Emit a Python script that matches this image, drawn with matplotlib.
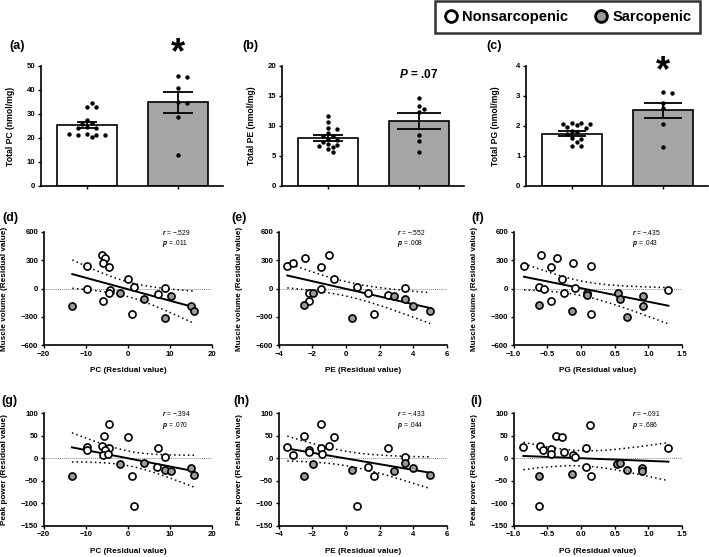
import numpy as np
import matplotlib
matplotlib.use("Agg")
import matplotlib.pyplot as plt
from matplotlib.lines import Line2D

plt.rcParams["font.family"] = ["Liberation Sans", "DejaVu Sans"]
plt.rcParams["font.weight"] = "bold"
plt.rcParams["axes.labelweight"] = "bold"
plt.rcParams["mathtext.fontset"] = "custom"
plt.rcParams["mathtext.rm"] = "Liberation Sans"
plt.rcParams["mathtext.it"] = "Liberation Sans:italic"
plt.rcParams["mathtext.bf"] = "Liberation Sans:bold"
plt.rcParams["mathtext.bfit"] = "Liberation Sans:italic:bold"

# ---------------- data: bar panels (a)-(c) ----------------
pc_non = [33.0, 33.0, 34.7, 27.5, 26.3, 25.8, 24.5, 24.3, 24.0, 21.5, 21.3, 21.2, 21.3, 21.5, 20.3]
pc_sar = [46.0, 45.6, 41.0, 34.8, 34.6, 28.7, 12.9]
pe_non = [11.6, 10.7, 9.7, 9.5, 8.8, 8.4, 8.3, 7.9, 7.6, 7.4, 7.0, 6.8, 6.7, 6.5, 6.1, 5.7]
pe_sar = [14.6, 13.3, 12.9, 12.4, 8.5, 7.5, 5.7]
pg_non = [2.10, 2.09, 2.08, 2.07, 2.02, 1.97, 1.95, 1.85, 1.80, 1.75, 1.60, 1.57, 1.46, 1.35, 1.33]
pg_sar = [3.12, 3.11, 2.77, 2.60, 2.06, 1.29]

bar_means = [[25.5, 34.8], [8.0, 10.8], [1.75, 2.53]]
bar_sem = [[1.3, 4.4], [0.5, 1.3], [0.09, 0.25]]
bar_ylabels = ["Total PC (nmol/mg)", "Total PE (nmol/mg)", "Total PG (nmol/mg)"]
bar_yticks = [[0, 10, 20, 30, 40, 50], [0, 5, 10, 15, 20], [0, 1, 2, 3, 4]]

# ---------------- data: muscle volume panels (d)-(f) ----------------
d_non_x = [-6.2, -5.5, -5.9, -9.8, -4.6, -0.04, 1.5, 8.7, -9.6, -4.2, -4.6, -5.8, 7.2, 0.9]
d_non_y = [356, 321, 268, 240, 233, 99, 14, 4, -4, -14, -42, -134, -56, -268]
d_sar_x = [-13.2, -1.9, 3.9, 10.3, 15.0, 15.7, 8.7]
d_sar_y = [-180, -46, -113, -81, -184, -240, -311]

e_non_x = [-3.49, -3.13, -2.46, -1.04, -1.46, -0.73, 0.62, 1.33, 3.48, -1.51, 1.64, -2.2, -2.18, 2.51]
e_non_y = [240, 268, 328, 356, 233, 99, 14, -49, 4, -7, -268, -42, -131, -67]
e_sar_x = [-2.5, -1.95, 0.34, 2.86, 3.51, 3.95, 5.0]
e_sar_y = [-177, -42, -307, -78, -113, -180, -237]

f_non_x = [-0.847, -0.594, -0.361, -0.45, -0.114, 0.144, -0.277, -0.62, -0.55, -0.248, -0.084, 0.084, -0.446, 0.153, 1.297]
f_non_y = [240, 356, 328, 233, 268, 240, 99, 14, -4, -42, 4, -42, -131, -265, -11]
f_sar_x = [-0.62, -0.129, 0.084, 0.55, 0.58, 0.916, 0.926, 0.683]
f_sar_y = [-177, -233, -64, -42, -113, -78, -180, -304]

# ---------------- data: peak power panels (g)-(i) ----------------
g_non_x = [-4.6, -5.7, -0.04, -9.8, -9.6, -6.2, -4.4, -5.5, -5.9, -4.7, 7.2, 8.7, 6.9, 0.9, 1.5]
g_non_y = [75.5, 49.6, 48, 25.8, 17.7, 27.3, 23.6, 18.4, 6.5, 8.8, 23.6, 2.1, -19.4, -39.5, -105.5]
g_sar_x = [-13.3, -1.9, 3.9, 8.7, 10.3, 14.9, 15.7]
g_sar_y = [-38.7, -13.5, -11.3, -25.4, -27.6, -22.4, -37.2]

h_non_x = [-1.5, -2.5, -0.73, -3.49, -3.13, -2.19, -1.51, -1.44, -1.04, 2.51, 3.48, 1.31, 1.64, 0.62, -2.22]
h_non_y = [75.5, 49.6, 48, 25.8, 6.5, 18.4, 23.6, 8.8, 28, 23.6, 2.1, -20, -39.5, -105.5, 13]
h_sar_x = [-2.5, -1.95, 0.34, 2.86, 3.51, 3.95, 5.0]
h_sar_y = [-38.7, -13.5, -25.4, -27.6, -11.3, -22.4, -36.5]

i_non_x = [0.134, -0.371, -0.282, -0.856, -0.609, -0.56, -0.45, -0.45, -0.252, -0.124, -0.084, 0.079, 0.074, 0.144, 1.297, -0.629]
i_non_y = [74.8, 49.6, 48, 25.8, 27.3, 17.7, 20, 8.8, 13.2, 6.5, 2.1, 23.6, -19.4, -39.5, 23.6, -105.5]
i_sar_x = [-0.624, -0.134, 0.535, 0.574, 0.678, 0.911, 0.906]
i_sar_y = [-38.7, -35.8, -13.5, -11.3, -25.4, -22.4, -27.6]

r_text = ["\u2212.529", "\u2212.552", "\u2212.435", "\u2212.394", "\u2212.433", "\u2212.091"]
p_text = [".011", ".008", ".043", ".070", ".044", ".686"]
x_labels = ["PC (Residual value)", "PE (Residual value)", "PG (Residual value)"]
x_ticks = [[-20, -10, 0, 10, 20], [-4, -2, 0, 2, 4, 6], [-1.0, -0.5, 0.0, 0.5, 1.0, 1.5]]

W, H = 709, 557
fig = plt.figure(figsize=(W / 100, H / 100), dpi=100)

GRAY_BAR = "#a6a6a6"
GRAY_DOT = "#9a9a9a"


def px_axes(x0, x1, ytop, ybot):
    return fig.add_axes([x0 / W, 1 - ybot / H, (x1 - x0) / W, (ybot - ytop) / H])


def style(ax):
    for s in ["top", "right"]:
        ax.spines[s].set_visible(False)
    for s in ["left", "bottom"]:
        ax.spines[s].set_linewidth(1.2)
    ax.tick_params(direction="out", length=2.5, width=1.0, labelsize=5.6, pad=1.5)


def swarm(ax, xc, vals, d):
    # simple beeswarm in pixel space
    placed = []
    xs = []
    for v in vals:
        px, py = ax.transData.transform((xc, v))
        k = 0
        while True:
            off = ((k + 1) // 2) * d * 0.95 * (1 if k % 2 else -1) if k else 0
            ok = all((px + off - qx) ** 2 + (py - qy) ** 2 >= d * d for qx, qy in placed)
            if ok:
                break
            k += 1
        placed.append((px + off, py))
        xs.append(ax.transData.inverted().transform((px + off, py))[0])
    return xs


# ---------------- top row: bars ----------------
bar_lefts = [41, 282, 526]
bar_groups = [(pc_non, pc_sar), (pe_non, pe_sar), (pg_non, pg_sar)]
caps = [(7.5, 11), (10.5, 16), (10, 13.5)]
bar_axes = []
for k in range(3):
    ax = px_axes(bar_lefts[k], bar_lefts[k] + 182, 66, 186)
    style(ax)
    ax.set_xlim(-0.505, 1.495)
    ax.set_ylim(0, bar_yticks[k][-1])
    ax.set_yticks(bar_yticks[k])
    ax.set_xticks([0, 1])
    ax.set_xticklabels(["", ""])
    ax.bar([0, 1], bar_means[k], width=0.66, color=["white", GRAY_BAR],
           edgecolor="black", linewidth=1.2, zorder=2)
    for j in range(2):
        ax.errorbar(j, bar_means[k][j], yerr=bar_sem[k][j], color="black",
                    capsize=caps[k][j], elinewidth=1.3, capthick=1.3, zorder=3)
        vals = bar_groups[k][j]
        xs = swarm(ax, j, vals, 4.8)
        ax.scatter(xs, vals, s=10, color="black", zorder=4, linewidths=0)
    ax.set_ylabel(bar_ylabels[k], fontsize=6.2)
    ax.yaxis.set_label_coords(-0.145, 0.5)
    bar_axes.append(ax)

# significance marks
bar_axes[0].text(1, 1.10, "*", transform=bar_axes[0].get_xaxis_transform(),
                 ha="center", va="center", fontsize=26, fontweight="bold")
bar_axes[1].text(1, 0.93, r"$\mathbfit{P}$ = .07", transform=bar_axes[1].get_xaxis_transform(),
                 ha="center", va="center", fontsize=8.5, fontweight="bold")
bar_axes[2].text(1, 0.95, "*", transform=bar_axes[2].get_xaxis_transform(),
                 ha="center", va="center", fontsize=26, fontweight="bold")

# ---------------- scatter rows ----------------
sc_lefts = [43.7, 278.7, 513.7]
sc_xlims = [(-20, 20), (-4, 6), (-1.0, 1.5)]
rows = [
    dict(ytop=232, ybot=345.3, ylim=(-600, 600), yticks=[-600, -300, 0, 300, 600],
         ylabel="Muscle volume (Residual value)", xlab_y=-0.195,
         sets=[(d_non_x, d_non_y, d_sar_x, d_sar_y), (e_non_x, e_non_y, e_sar_x, e_sar_y),
               (f_non_x, f_non_y, f_sar_x, f_sar_y)]),
    dict(ytop=413.3, ybot=525.7, ylim=(-150, 100), yticks=[-150, -100, -50, 0, 50, 100],
         ylabel="Peak power (Residual value)", xlab_y=-0.2,
         sets=[(g_non_x, g_non_y, g_sar_x, g_sar_y), (h_non_x, h_non_y, h_sar_x, h_sar_y),
               (i_non_x, i_non_y, i_sar_x, i_sar_y)]),
]
for r, row in enumerate(rows):
    for k in range(3):
        ax = px_axes(sc_lefts[k], sc_lefts[k] + 168.4, row["ytop"], row["ybot"])
        style(ax)
        ax.set_xlim(*sc_xlims[k])
        ax.set_ylim(*row["ylim"])
        ax.set_xticks(x_ticks[k])
        ax.set_yticks(row["yticks"])
        if k == 2:
            ax.set_xticklabels([f"{t:.1f}".replace("-", "\u2212") for t in x_ticks[k]])
        ax.axhline(0, color="#888888", lw=0.7, ls=(0, (1, 1)), zorder=1)
        nx, ny, sx, sy = row["sets"][k]
        ax.scatter(nx, ny, s=26, facecolor="white", edgecolor="black", linewidths=1.2, zorder=4)
        ax.scatter(sx, sy, s=26, facecolor=GRAY_DOT, edgecolor="black", linewidths=1.2, zorder=4)

        # regression with 95% CI
        xa = np.array(nx + sx, dtype=float)
        ya = np.array(ny + sy, dtype=float)
        n = len(xa)
        b, a = np.polyfit(xa, ya, 1)
        res = ya - (a + b * xa)
        s_err = np.sqrt(np.sum(res ** 2) / (n - 2))
        xx = np.linspace(xa.min(), xa.max(), 100)
        yy = a + b * xx
        ci = 2.086 * s_err * np.sqrt(1 / n + (xx - xa.mean()) ** 2 / np.sum((xa - xa.mean()) ** 2))
        ax.plot(xx, yy, color="black", lw=1.4, zorder=3)
        ax.plot(xx, yy + ci, color="black", lw=1.1, ls=(0, (1, 2)), zorder=3)
        ax.plot(xx, yy - ci, color="black", lw=1.1, ls=(0, (1, 2)), zorder=3)

        idx = r * 3 + k
        ax.text(0.70, 0.995, f"$\\it{{r}}$ = {r_text[idx]}", transform=ax.transAxes,
                fontsize=4.8, fontweight="normal", va="center", ha="left")
        ax.text(0.70, 0.895, f"$\\it{{p}}$ = {p_text[idx]}", transform=ax.transAxes,
                fontsize=4.8, fontweight="normal", va="center", ha="left")

        ax.set_xlabel(x_labels[k], fontsize=5.9)
        ax.xaxis.set_label_coords(0.5, row["xlab_y"])
        ax.set_ylabel(row["ylabel"], fontsize=5.9)
        ax.yaxis.set_label_coords(-0.21, 0.5)

# panel letters
letters = [("(a)", 9, 46), ("(b)", 242, 46), ("(c)", 486, 46),
           ("(d)", 2, 218), ("(e)", 231, 218), ("(f)", 471, 218),
           ("(g)", 1, 401), ("(h)", 233, 401), ("(i)", 470, 401)]
for lab, x, y in letters:
    fig.text(x / W, 1 - y / H, lab, fontsize=9, fontweight="bold", ha="left", va="center")

# legend
handles = [Line2D([], [], marker="o", ls="", markersize=8.5, markerfacecolor="white",
                  markeredgecolor="black", markeredgewidth=2),
           Line2D([], [], marker="o", ls="", markersize=8.5, markerfacecolor=GRAY_DOT,
                  markeredgecolor="black", markeredgewidth=2)]
leg = fig.legend(handles, ["Nonsarcopenic", "Sarcopenic"], loc="upper right",
                 bbox_to_anchor=(700 / W, 1 - 1 / H), ncol=2, frameon=True, fancybox=False,
                 prop=dict(family=["Liberation Sans Narrow", "Liberation Sans"], weight="bold", size=10.5),
                 handletextpad=0.25, columnspacing=1.8, borderpad=0.6, handlelength=1.0,
                 borderaxespad=0)
leg.get_frame().set_edgecolor("black")
leg.get_frame().set_linewidth(1.8)

fig.savefig("out.png", dpi=100)
